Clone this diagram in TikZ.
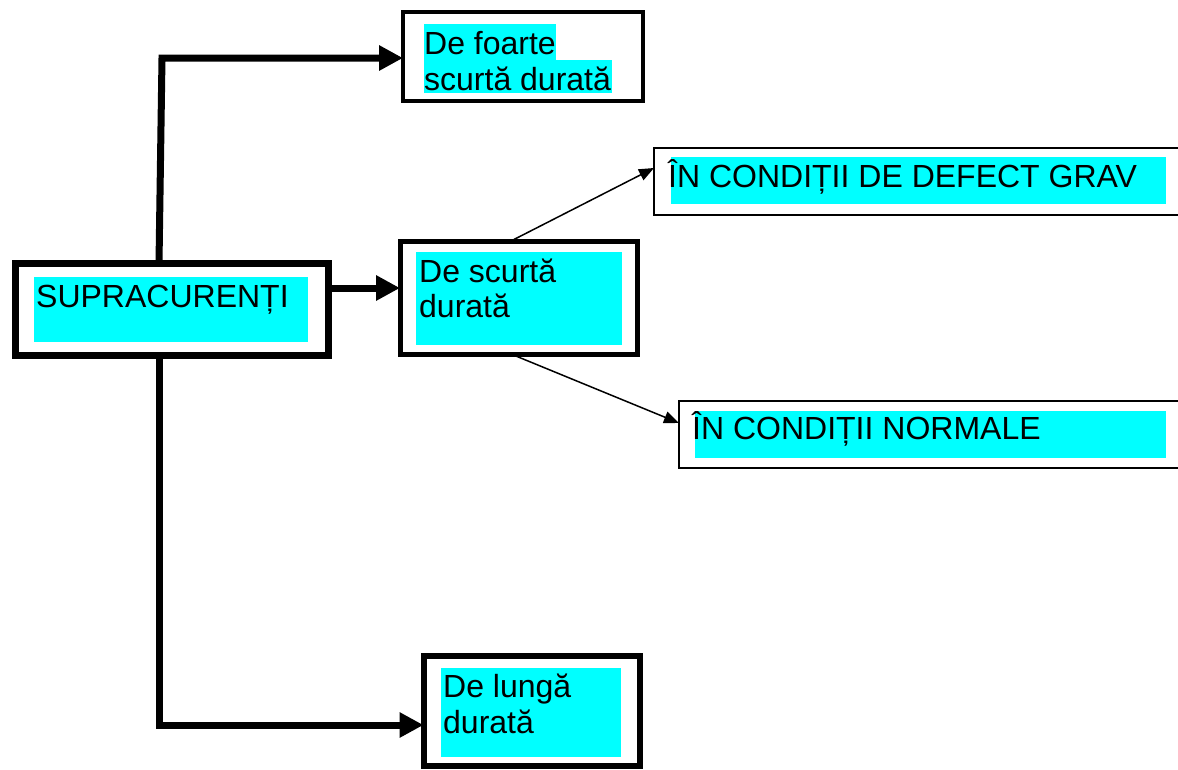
\documentclass[tikz,border=0pt]{standalone}
\usepackage{fontspec}
\setmainfont{Liberation Sans}
\usetikzlibrary{arrows.meta, positioning}
\definecolor{hlcyan}{RGB}{0,255,255}
\tikzstyle{frame} = [rectangle, draw=black, inner sep=0pt, outer sep=0pt]
\tikzstyle{hl} = [rectangle, fill=hlcyan, inner sep=0pt, outer sep=0pt]
\tikzstyle{txt} = [anchor=base west, inner sep=0pt, align=left, font=\fontsize{32}{36}\selectfont]
\tikzstyle{bigarrow} = [line width=7pt, -{Triangle[length=24pt, width=24pt]}]
\tikzstyle{smallarrow} = [line width=1.5pt, -{Triangle[length=15pt, width=12pt]}]

\begin{document}
\begin{tikzpicture}[x=1pt, y=-1pt]
\useasboundingbox (0,0) rectangle (1178,769);

% highlighted text fields
\node (supraHl) [hl, minimum width=274pt, minimum height=65pt] at (171,309.5) {};
\node (foarteHlA) [hl, minimum width=132pt, minimum height=36pt] at (490,42) {};
\node (foarteHlB) [hl, minimum width=188pt, minimum height=33pt] at (518,76.5) {};
\node (scurtaHl) [hl, minimum width=206pt, minimum height=93pt] at (519,298.5) {};
\node (gravHl) [hl, minimum width=495pt, minimum height=47pt] at (918.5,180.5) {};
\node (normaleHl) [hl, minimum width=471pt, minimum height=47pt] at (930.5,434.5) {};
\node (lungaHl) [hl, minimum width=180pt, minimum height=89pt] at (531,712.5) {};

% frames
\node (supra) [frame, line width=7pt, minimum width=313pt, minimum height=92pt] at (171.5,309) {};
\node (foarte) [frame, line width=4pt, minimum width=240pt, minimum height=88.5pt] at (523,56.25) {};
\node (scurta) [frame, line width=5pt, minimum width=237.5pt, minimum height=112.5pt] at (518.75,297.75) {};
\node (grav) [frame, line width=2.5pt, minimum width=536pt, minimum height=67pt] at (922,181.5) {};
\node (normale) [frame, line width=2.5pt, minimum width=511pt, minimum height=67pt] at (934.5,434.5) {};
\node (lunga) [frame, line width=6pt, minimum width=216.5pt, minimum height=110pt] at (531.75,710.5) {};

% texts (base = last line)
\node (supraTxt) [txt] at (36,307) {SUPRACURENȚI};
\node (foarteTxt) [txt] at (424,90) {De foarte\\scurtă durată};
\node (scurtaTxt) [txt, font=\fontsize{32}{35}\selectfont] at (419,317) {De scurtă\\durată};
\node (gravTxt) [txt] at (668,187) {ÎN CONDIȚII DE DEFECT GRAV};
\node (normaleTxt) [txt] at (692,439) {ÎN CONDIȚII NORMALE};
\node (lungaTxt) [txt] at (443,733) {De lungă\\durată};

% connectors
\draw [bigarrow] (supra.north -| 159,0) -- (162,58) -- (foarte.west |- 0,58);
\draw [bigarrow] (supra.east |- 0,288) -- (scurta.west |- 0,288);
\draw [bigarrow] (supra.south -| 159,0) |- (lunga.west |- 0,725);
\draw [smallarrow] (scurta.north -| 510,0) -- (grav.west |- 0,168);
\draw [smallarrow] (scurta.south -| 511,0) -- (normale.west |- 0,423);

\end{tikzpicture}
\end{document}
